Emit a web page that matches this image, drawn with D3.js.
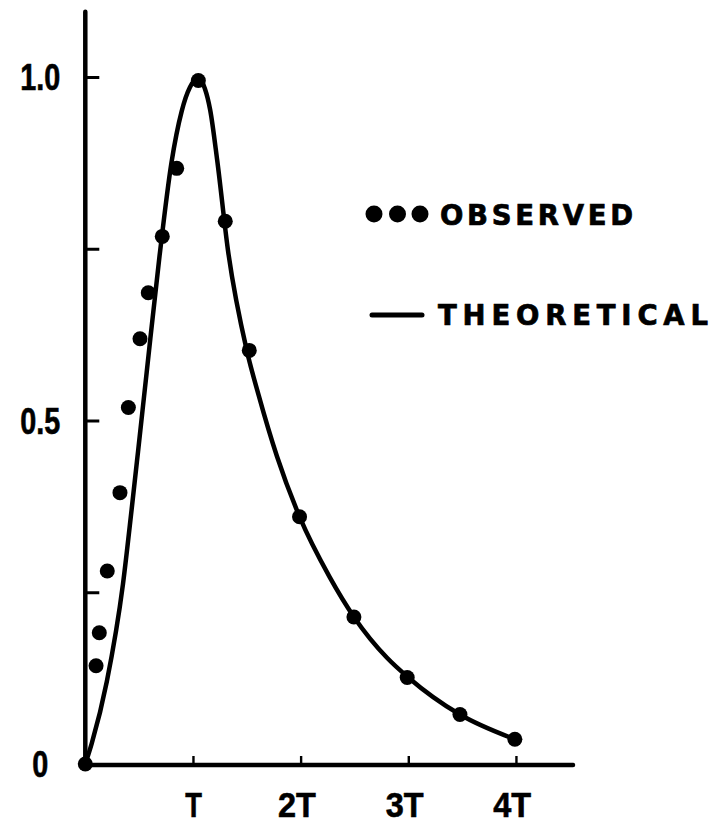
<!DOCTYPE html>
<html>
<head>
<meta charset="utf-8">
<script src="https://cdn.jsdelivr.net/npm/d3@7"></script>
<style>
  html, body { margin: 0; padding: 0; background: #fff; }
  svg { display: block; }
</style>
</head>
<body>
<svg id="chart" width="711" height="823"></svg>
<script>
// Time in units of T, response normalised to its peak.
const obsT = [0, 0.10, 0.13, 0.204, 0.322, 0.40, 0.508, 0.585, 0.715, 0.849, 1.05, 1.30, 1.523, 1.99, 2.495, 2.99, 3.48, 3.99];
const obsV = [0, 0.143, 0.191, 0.281, 0.395, 0.519, 0.619, 0.686, 0.768, 0.867, 0.995, 0.79, 0.602, 0.36, 0.214, 0.126, 0.072, 0.036];

const theoT = [0, 0.06, 0.20, 0.35, 0.43, 0.49, 0.57, 0.69, 0.80, 0.895, 0.972, 1.05, 1.111, 1.16, 1.225, 1.325, 1.50, 1.61, 1.78, 1.99, 2.27, 2.50, 2.80, 3.00, 3.48, 3.99];
const theoV = [0, 0.03, 0.12, 0.262, 0.37, 0.455, 0.57, 0.74, 0.875, 0.95, 0.985, 0.998, 0.983, 0.952, 0.879, 0.748, 0.602, 0.537, 0.448, 0.36, 0.272, 0.213, 0.155, 0.126, 0.072, 0.036];

const xTickValues = [1, 2, 3, 4];
const xTickLabels = ["T", "2T", "3T", "4T"];
const yTickValues = [0, 0.25, 0.5, 0.75, 1];
const yTickLabels = ["0", "", "0.5", "", "1.0"];

const legendLabels = ["OBSERVED", "THEORETICAL"];

const svg = d3.select("#chart");
const ink = "#000";

const x = d3.scaleLinear().domain([0, 4.53]).range([85.3, 573]);
const y = d3.scaleLinear().domain([0, 1]).range([764, 77]);

const axisFont = "'Liberation Sans', Arial, sans-serif";
const legendFont = "'DejaVu Sans', Verdana, sans-serif";

// squeeze a label horizontally, keeping an extra gap between characters
function condense(sel, factor, gap) {
  sel.each(function () {
    const t = this.textContent;
    if (!t) return;
    const w = this.getComputedTextLength();
    this.setAttribute("textLength", w * factor + (t.length - 1) * gap);
    this.setAttribute("lengthAdjust", "spacingAndGlyphs");
  });
}

// axis lines
svg.append("line")
  .attr("x1", x(0)).attr("x2", x(0))
  .attr("y1", y(0) + 1).attr("y2", y(1.095))
  .attr("stroke", ink).attr("stroke-width", 4.5).attr("stroke-linecap", "round");
svg.append("line")
  .attr("x1", x(0) - 2).attr("x2", x(4.53))
  .attr("y1", y(0) + 1).attr("y2", y(0) + 1)
  .attr("stroke", ink).attr("stroke-width", 4.5).attr("stroke-linecap", "round");

// y axis: ticks point into the plot
const yAxis = d3.axisLeft(y)
  .tickValues(yTickValues)
  .tickFormat((d, i) => yTickLabels[i])
  .tickSizeInner(-14).tickSizeOuter(0).tickPadding(45);
const gy = svg.append("g").attr("transform", `translate(${x(0)},0)`).call(yAxis);
gy.select(".domain").remove();
gy.selectAll(".tick line").attr("stroke", ink).attr("stroke-width", 3)
  .attr("display", d => d === 0 ? "none" : null);
gy.selectAll(".tick text")
  .attr("text-anchor", "middle")
  .attr("dy", "0.36em")
  .attr("fill", ink)
  .attr("stroke", ink).attr("stroke-width", 0.6)
  .style("font-family", axisFont).style("font-weight", "bold").style("font-size", "36px")
  .call(condense, 0.8, 0);

// x axis: short upward ticks, multiples of T below
const xAxis = d3.axisBottom(x)
  .tickValues(xTickValues)
  .tickFormat((d, i) => xTickLabels[i])
  .tickSizeInner(-9).tickSizeOuter(0).tickPadding(27);
const gx = svg.append("g").attr("transform", `translate(0,${y(0) + 1})`).call(xAxis);
gx.select(".domain").remove();
gx.selectAll(".tick line").attr("stroke", ink).attr("stroke-width", 2.4);
gx.selectAll(".tick text")
  .attr("fill", ink)
  .attr("stroke", ink).attr("stroke-width", 0.6)
  .style("font-family", axisFont).style("font-weight", "bold").style("font-size", "35px")
  .call(condense, 0.78, 6);
gx.selectAll(".tick text").attr("dx", (d, i) => i === 0 ? 0 : "-0.12em");

// theoretical curve
const theo = theoT.map((t, i) => [t, theoV[i]]);
const line = d3.line().x(d => x(d[0])).y(d => y(d[1])).curve(d3.curveMonotoneX);
svg.append("path")
  .datum(theo)
  .attr("d", line)
  .attr("fill", "none")
  .attr("stroke", ink)
  .attr("stroke-width", 4.5)
  .attr("stroke-linejoin", "round")
  .attr("stroke-linecap", "round");

// observed points
const obs = obsT.map((t, i) => [t, obsV[i]]);
svg.append("g").selectAll("circle")
  .data(obs)
  .join("circle")
  .attr("cx", d => x(d[0]))
  .attr("cy", d => y(d[1]))
  .attr("r", 7.5)
  .attr("fill", ink);

// legend
const lg = svg.append("g");
[374, 397.5, 420].forEach(cx => {
  lg.append("circle").attr("cx", cx).attr("cy", 214).attr("r", 8.5).attr("fill", ink);
});
lg.append("text")
  .attr("x", 440).attr("y", 225)
  .attr("textLength", 193).attr("lengthAdjust", "spacing")
  .attr("fill", ink).attr("stroke", ink).attr("stroke-width", 0.7)
  .style("font-family", legendFont).style("font-weight", "bold").style("font-size", "27.5px")
  .text(legendLabels[0]);
lg.append("line")
  .attr("x1", 372).attr("x2", 422).attr("y1", 315).attr("y2", 315)
  .attr("stroke", ink).attr("stroke-width", 5).attr("stroke-linecap", "round");
lg.append("text")
  .attr("x", 438).attr("y", 325)
  .attr("textLength", 270).attr("lengthAdjust", "spacing")
  .attr("fill", ink).attr("stroke", ink).attr("stroke-width", 0.7)
  .style("font-family", legendFont).style("font-weight", "bold").style("font-size", "27.5px")
  .text(legendLabels[1]);
</script>
</body>
</html>
